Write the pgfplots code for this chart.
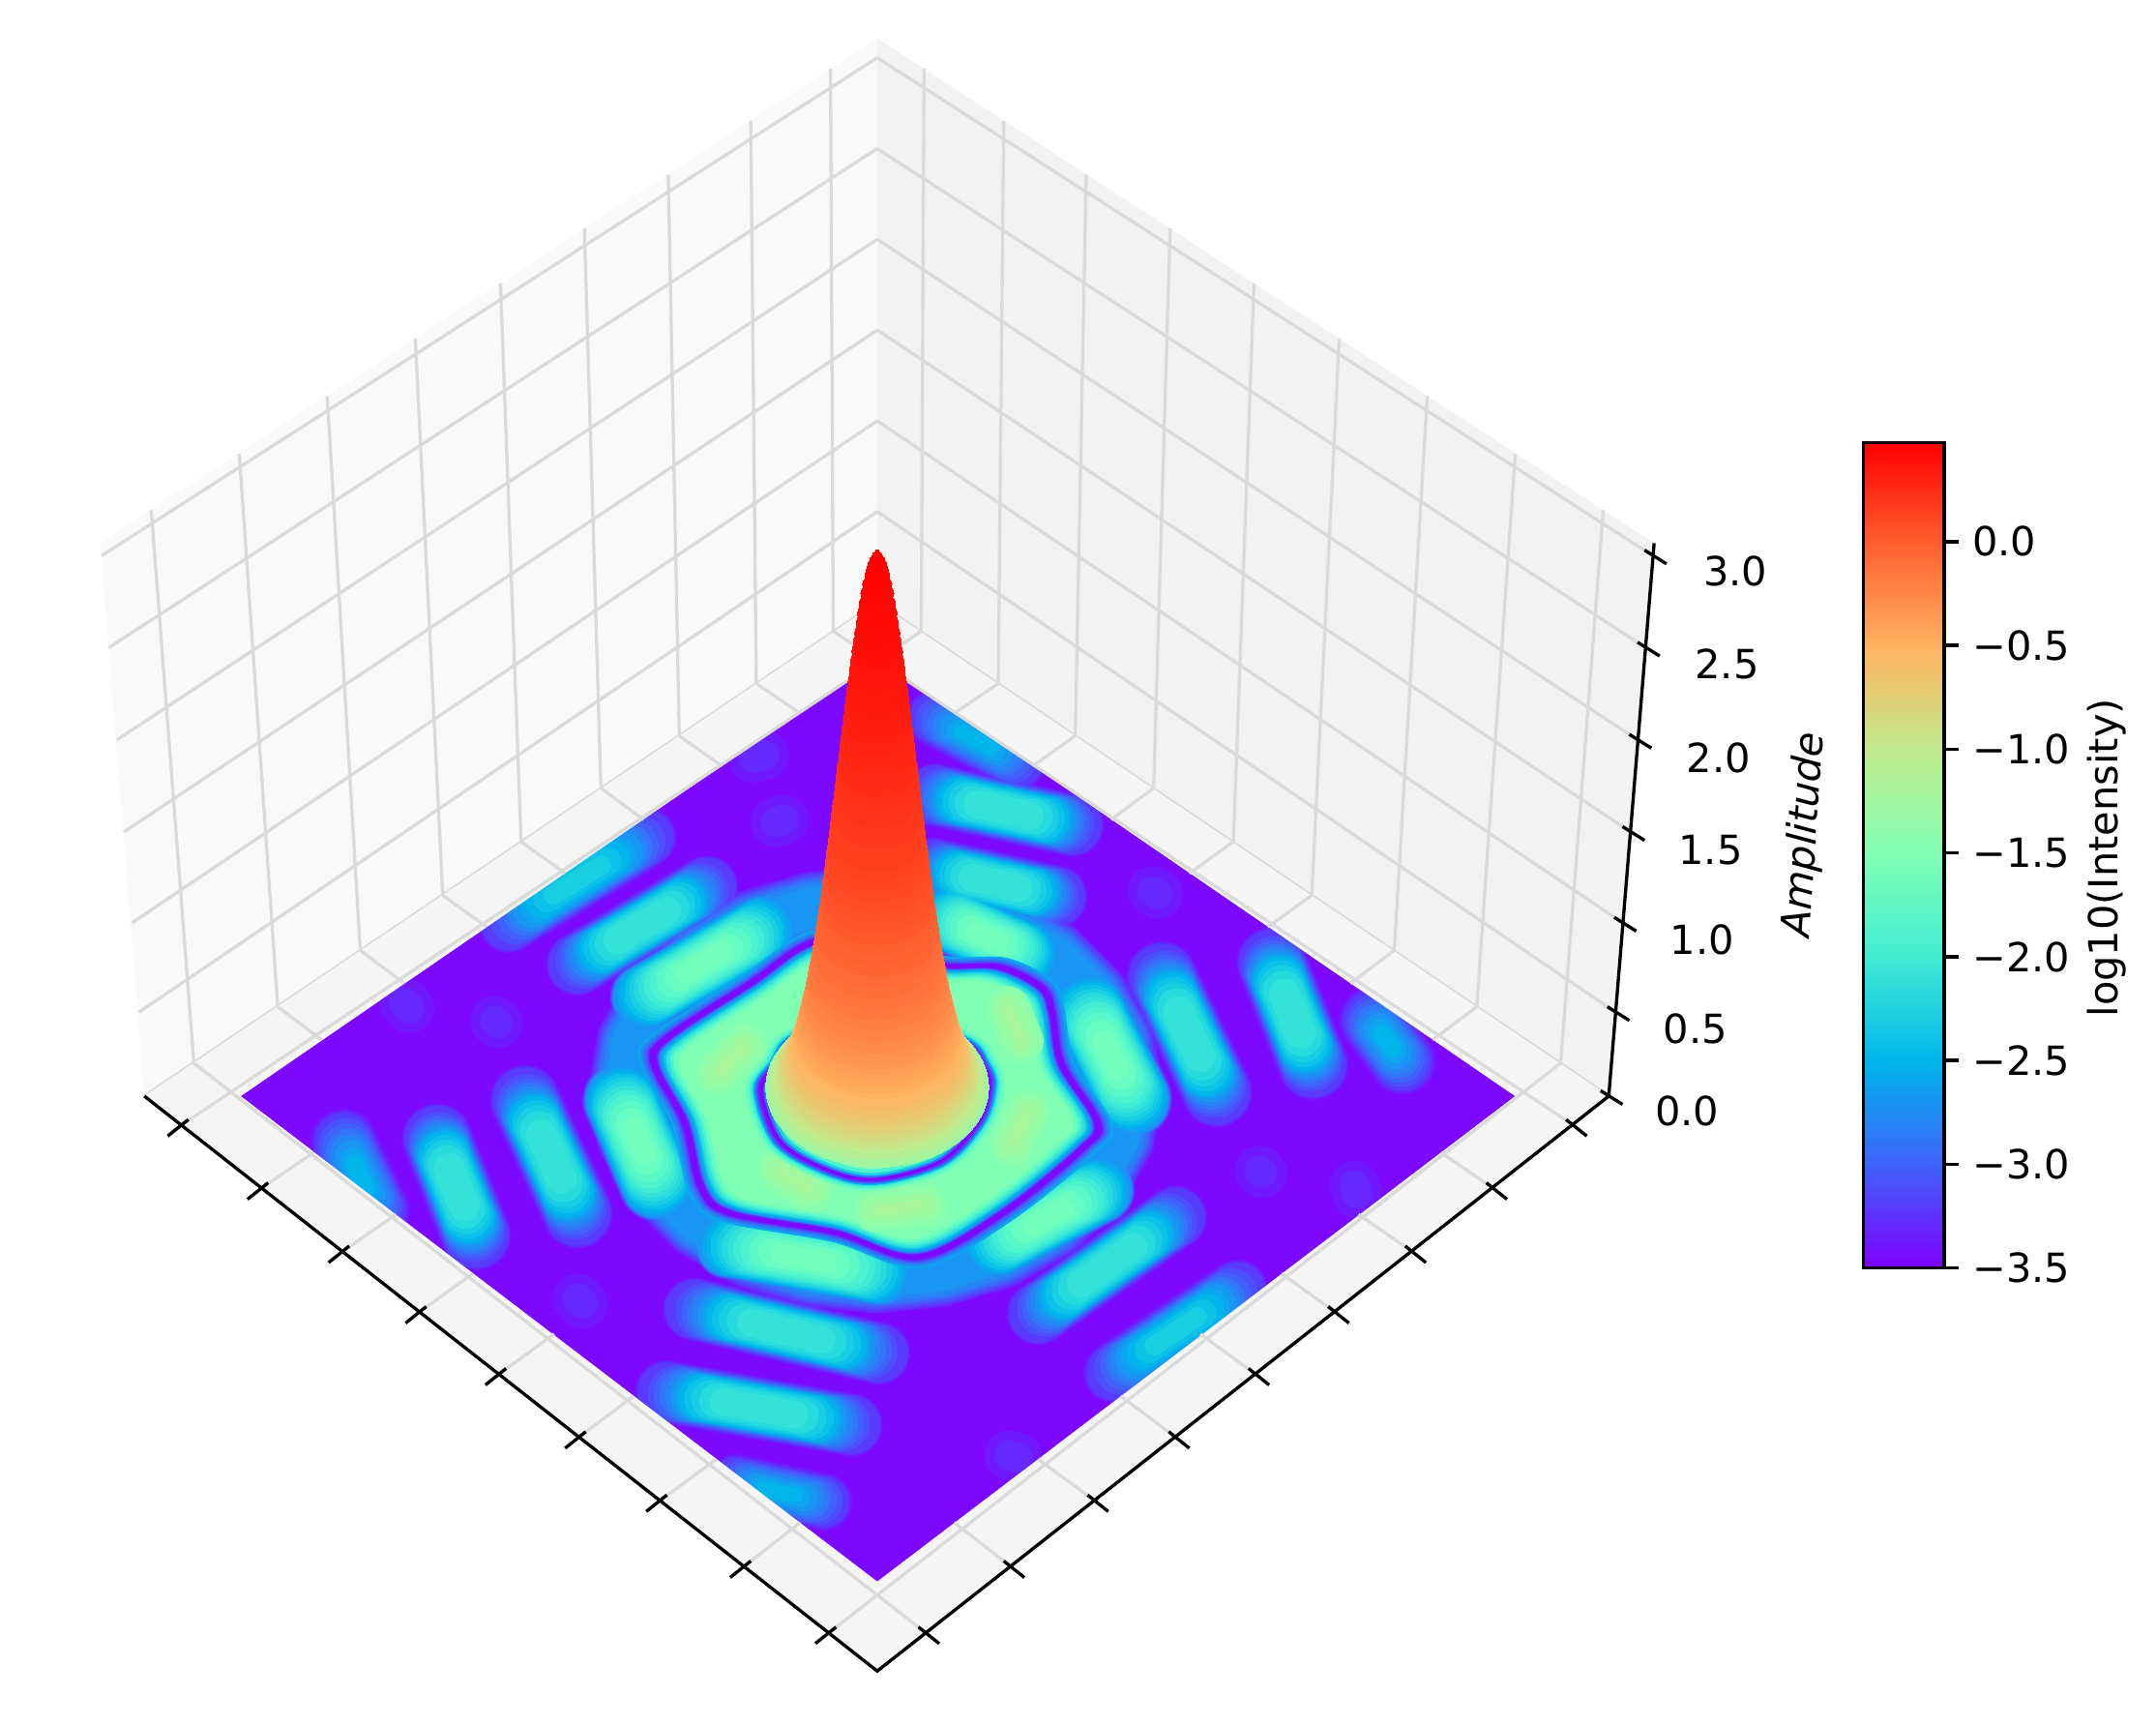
\documentclass[border=0pt]{standalone}
\usepackage{pgfplots}
\usepackage{pgfplotstable}
\usepackage{fontspec}
\setmainfont{DejaVu Sans}
\pgfplotsset{compat=1.18}
% matplotlib rainbow, scale runs -3.5 .. 0.476
\pgfplotsset{colormap={mplrainbow}{rgb=(.5,0,1) rgb=(.25,.383,.98) rgb=(0,.707,.924) rgb=(.25,.924,.831)
  rgb=(.5,1,.707) rgb=(.75,.924,.556) rgb=(1,.707,.383) rgb=(1,.383,.195) rgb=(1,0,0)}}
\def\upx{0.3425pt}
\definecolor{t00}{rgb}{.49,.03,1}
\definecolor{t03}{rgb}{.44,.094,.999}
\definecolor{t05}{rgb}{.40,.156,.997}
\definecolor{t07}{rgb}{.35,.233,.993}
\definecolor{t10}{rgb}{.30,.309,.988}
\definecolor{t12}{rgb}{.25,.383,.981}
\definecolor{t15}{rgb}{.20,.454,.972}
\definecolor{t17}{rgb}{.15,.522,.962}
\definecolor{t20}{rgb}{.10,.588,.951}
\definecolor{t22}{rgb}{.05,.649,.938}
\definecolor{t25}{rgb}{0,.707,.924}
\definecolor{t27}{rgb}{.05,.760,.908}
\definecolor{t30}{rgb}{.10,.809,.891}
\definecolor{t32}{rgb}{.15,.853,.872}
\definecolor{t35}{rgb}{.20,.891,.853}
\definecolor{t37}{rgb}{.25,.924,.831}
\definecolor{t40}{rgb}{.30,.951,.809}
\definecolor{t42}{rgb}{.35,.972,.785}
\definecolor{t45}{rgb}{.40,.988,.760}
\definecolor{t47}{rgb}{.45,.997,.734}
\definecolor{t50}{rgb}{.50,1,.707}
\definecolor{t52}{rgb}{.54,.998,.68}
\definecolor{t54}{rgb}{.58,.992,.66}
\definecolor{t56}{rgb}{.62,.982,.63}
\definecolor{t58}{rgb}{.66,.968,.61}
\definecolor{wallL}{gray}{.975}
\definecolor{wallR}{gray}{.95}
\definecolor{floorc}{gray}{.96}
\definecolor{gridc}{gray}{.855}

% wall grid segments
\pgfplotstableread{
x y a b
141 773 110 371
202 732 174 330
262 691 238 288
322 651 302 246
379 612 364 206
437 573 425 166
494 535 486 127
550 497 546 88
606 459 604 50
1135 773 1166 371
1074 732 1102 330
1014 691 1038 288
954 651 974 246
897 612 912 206
839 573 851 166
782 535 790 127
726 497 730 88
670 459 672 50
105 797 638 438
101 736 638 372
96 671 638 306
90 605 638 240
85 538 638 174
79 471 638 108
74 404 638 42
1170 797 638 438
1175 736 638 372
1180 671 638 306
1186 605 638 240
1191 538 638 174
1197 471 638 108
1202 404 638 42
}\wallgrid
% floor grid, only the parts outside the surface
\pgfplotstableread{
x y a b
132 818 670 459
190 864 228 838
695 518 726 497
249 910 288 883
751 557 782 535
305 954 344 926
808 596 839 573
363 999 403 970
865 635 897 612
421 1045 461 1015
922 674 954 651
480 1091 521 1061
982 715 1014 691
541 1139 582 1107
1042 756 1074 732
603 1187 1135 773
1144 818 606 459
1086 864 1048 838
581 518 550 497
1027 910 988 883
525 557 494 535
971 954 932 926
468 596 437 573
913 999 873 970
411 635 379 612
855 1045 815 1015
354 674 322 651
796 1091 755 1061
294 715 262 691
735 1139 694 1107
234 756 202 732
673 1187 141 773
}\floorgrid
\pgfplotstableread{
x y
132 818
190 864
249 910
305 954
363 999
421 1045
480 1091
541 1139
603 1187
}\tickleft
\pgfplotstableread{
x y
1144 818
1086 864
1027 910
971 954
913 999
855 1045
796 1091
735 1139
673 1187
}\tickright
\pgfplotstableread{
x y
1170 797
1175 736
1180 671
1186 605
1191 538
1197 471
1202 404
}\tickz
% lobes of the floor pattern: middle x y, half length u v
% steep ones stand across the view, flat ones lie along it and look thinner
\pgfplotstableread{
x y u v
296 731 2 2
361 743 1 1
552 550 4 -1
567 597 3 -1
840 649 2 1
986 865 1 3
917 852 1 1
737 1059 3 1
422 946 2 2
}\lobesD
\pgfplotstableread{
x y u v
262 855 12 25
1009 757 11 15
}\lobesCs
\pgfplotstableread{
x y u v
710 538 30 16
567 1085 32 7
}\lobesCf
\pgfplotstableread{
x y u v
420 640 50 -31
855 968 45 -30
}\lobesE
\pgfplotstableread{
x y u v
332 863 14 35
401 841 19 41
940 737 15 37
865 752 20 42
}\lobesBs
\pgfplotstableread{
x y u v
467 673 47 -28
730 589 50 11
724 642 44 10
805 920 50 -35
572 968 67 16
552 1024 67 12
}\lobesBf
\pgfplotstableread{
x y u v
465 830 13 30
808 767 16 32
}\lobesAs
\pgfplotstableread{
x y u v
512 700 43 -25
585 915 55 10
762 885 38 -20
718 681 28 13
}\lobesAf
\pgfplotstableread{
x y
820 792
814 827
795 860
766 889
728 911
684 924
637 929
590 924
546 911
508 889
479 860
460 827
454 792
460 757
479 724
508 695
546 673
590 660
637 655
684 660
728 673
766 695
795 724
814 757
820 792
}\halo
% dark line round the central band, starts behind the peak
\pgfplotstableread{
x y
640 690
687 702
726 703
757 718
765 736
772 774
798 816
787 835
729 882
668 914
607 896
531 882
510 863
498 816
476 774
485 755
546 715
592 685
640 690
}\darkout
% dark line next to the peak
\pgfplotstableread{
x y
638 735
699 757
714 774
719 790
711 816
684 844
638 857
604 851
568 830
554 793
565 774
580 755
638 735
}\darkin
\pgfplotstableread{
x y u v
532 770 10 -10
738 745 5 12
742 820 -6 12
578 858 12 7
655 878 18 -2
}\patches
% peak: amplitude z, half width r in picture px, log10(intensity) m
\pgfplotstableread{
z r m
.05 81 -1.30
.06 80 -1.2
.08 78 -1.09
.10 75.7 -1.02
.115 74 -.95
.13 72.5 -.89
.15 70.7 -.83
.17 69 -.77
.19 67.6 -.72
.21 66.4 -.67
.24 65 -.62
.27 63.5 -.57
.295 62.2 -.53
.32 61 -.5
.345 60 -.46
.37 59 -.43
.40 58 -.4
.43 57 -.37
.455 56.1 -.34
.48 55.3 -.32
.505 54.5 -.3
.53 53.7 -.27
.585 52.2 -.23
.64 50.8 -.19
.69 49.5 -.16
.74 48.2 -.13
.795 47 -.1
.85 45.8 -.07
.905 44.7 -.04
.96 43.6 -.02
1.01 42.5 0
1.06 41.5 .03
1.115 40.5 .05
1.17 39.6 .07
1.225 38.6 .09
1.28 37.7 .11
1.33 36.8 .12
1.38 35.9 .14
1.435 35 .16
1.49 34.1 .17
1.545 33.2 .19
1.6 32.4 .2
1.65 31.5 .22
1.7 30.7 .23
1.755 29.8 .24
1.81 29 .26
1.865 28.1 .27
1.92 27.3 .28
1.97 26.4 .29
2.02 25.6 .31
2.075 24.7 .32
2.13 23.9 .33
2.18 23 .34
2.23 22.2 .35
2.285 21.2 .36
2.34 20.3 .37
2.395 19.3 .38
2.45 18.4 .39
2.5 17.4 .4
2.55 16.4 .41
2.6 15.4 .415
2.66 14.3 .425
2.71 13.1 .433
2.77 12 .442
2.82 10.6 .45
2.87 9 .458
2.90 8 .462
2.93 6.8 .467
2.955 5.4 .47
2.975 4 .473
2.99 2.6 .475
3.0 1.5 .476
}\peak

\newcommand{\stroke}[3]{\addplot[line width=#2*\upx,color=#3,line cap=round,line join=round,forget plot] table {#1};}
% one layer of a set of lobes: table, width, length factor, colour
\newcommand{\lobe}[4]{\addplot[line width=#2*\upx,color=#4,line cap=round,forget plot,
  quiver={u=2*#3*\thisrow{u},v=2*#3*\thisrow{v}}]
  table[x expr=\thisrow{x}-#3*\thisrow{u},y expr=\thisrow{y}-#3*\thisrow{v}] {#1};}
% same layer for the steep and the flat lobes of a class
\newcommand{\lobeC}[3]{\lobe{\lobesCs}{.92*#1}{#2}{#3}\lobe{\lobesCf}{.8*#1}{#2}{#3}}
\newcommand{\lobeB}[3]{\lobe{\lobesBs}{.92*#1}{#2}{#3}\lobe{\lobesBf}{.82*#1}{#2}{#3}}
\newcommand{\lobeA}[3]{\lobe{\lobesAs}{.92*#1}{#2}{#3}\lobe{\lobesAf}{.82*#1}{#2}{#3}}
\newcommand{\scaled}[3]{\addplot[smooth,tension=.55,fill=#3,draw=none,forget plot] table[x expr=638+(\thisrow{x}-638)*#2,y expr=797+(\thisrow{y}-797)*#2] {#1};}
\begin{document}
\begin{tikzpicture}
\begin{axis}[
  name=main,
  at={(0,0)},anchor=south west,
  scale only axis,
  width=1568*\upx,height=1254*\upx,
  xmin=0,xmax=1568,ymin=0,ymax=1254,
  y dir=reverse,
  hide axis,
  clip=false,
  point meta min=-3.5,point meta max=0.476,
]
\addplot[fill=white,draw=none] coordinates {(0,0)(1568,0)(1568,1254)(0,1254)};
\addplot[fill=wallL,draw=none] coordinates {(73,395)(638,28)(638,438)(105,797)};
\addplot[fill=wallR,draw=none] coordinates {(638,28)(1203,395)(1170,797)(638,438)};
\addplot[gridc,line width=.8pt,quiver={u=\thisrow{a}-\thisrow{x},v=\thisrow{b}-\thisrow{y}}] table {\wallgrid};
% surface floor, drawn level by level from low to high
\addplot[fill=t00,draw=none] coordinates {(638,479)(175,797)(638,1150)(1102,797)};
\lobe{\lobesD}{36}{1}{t03} \lobeC{52}{1}{t03} \lobe{\lobesE}{44}{1}{t03} \lobeB{56}{1}{t03}
\lobe{\lobesD}{22}{1}{t05} \lobeC{49}{1}{t05} \lobe{\lobesE}{42}{1}{t05} \lobeB{54}{1}{t05} \stroke{\halo}{52}{t05} \lobeA{62}{1}{t05}
\lobeC{46}{1}{t07} \lobe{\lobesE}{40}{1}{t07} \lobeB{52}{1}{t07} \stroke{\halo}{49}{t07} \lobeA{61}{1}{t07}
\lobeC{43}{.9}{t10} \lobe{\lobesE}{38}{.9}{t10} \lobeB{50}{.9}{t10} \stroke{\halo}{46}{t10} \lobeA{60}{1}{t10}
\lobeC{40}{.8}{t12} \lobe{\lobesE}{36}{.82}{t12} \lobeB{48}{.85}{t12} \stroke{\halo}{43}{t12} \lobeA{59}{1}{t12}
\lobeC{36}{.7}{t15} \lobe{\lobesE}{34}{.75}{t15} \lobeB{46}{.8}{t15} \stroke{\halo}{40}{t15} \lobeA{58}{1}{t15}
\lobeC{32}{.62}{t17} \lobe{\lobesE}{32}{.7}{t17} \lobeB{45}{.75}{t17} \stroke{\halo}{36}{t17} \lobeA{57}{1}{t17}
\lobeC{26}{.55}{t20} \lobe{\lobesE}{30}{.65}{t20} \lobeB{43}{.7}{t20} \stroke{\halo}{30}{t20} \lobeA{56}{1}{t20}
\lobeC{20}{.45}{t22} \lobe{\lobesE}{27}{.58}{t22} \lobeB{42}{.65}{t22} \lobeA{55}{.95}{t22}
\lobeC{14}{.35}{t25} \lobe{\lobesE}{24}{.52}{t25} \lobeB{41}{.62}{t25} \lobeA{53}{.9}{t25}
\lobe{\lobesE}{20}{.44}{t27} \lobeB{38}{.58}{t27} \lobeA{51}{.86}{t27}
\lobe{\lobesE}{14}{.35}{t30} \lobeB{35}{.52}{t30} \lobeA{49}{.8}{t30}
\lobeB{31}{.46}{t32} \lobeA{46}{.75}{t32}
\lobeB{25}{.38}{t35} \lobeA{43}{.7}{t35}
\lobeA{40}{.64}{t37}
\lobeA{36}{.58}{t40}
\lobeA{32}{.5}{t42}
\lobeA{26}{.42}{t45}
\lobeA{18}{.3}{t47}
% central band, nested outlines on both sides of the dark line
\scaled{\darkout}{1.07}{t22}
\scaled{\darkout}{1.055}{t17}
\scaled{\darkout}{1.04}{t12}
\scaled{\darkout}{1.028}{t07}
\scaled{\darkout}{1.018}{t00}
\scaled{\darkout}{0.985}{t05}
\scaled{\darkout}{0.98}{t10}
\scaled{\darkout}{0.975}{t15}
\scaled{\darkout}{0.97}{t20}
\scaled{\darkout}{0.96}{t25}
\scaled{\darkout}{0.95}{t30}
\scaled{\darkout}{0.94}{t35}
\scaled{\darkout}{0.925}{t40}
\scaled{\darkout}{0.91}{t45}
\scaled{\darkout}{0.89}{t50}
\lobe{\patches}{32}{1}{t52}
\lobe{\patches}{24}{1}{t54}
\lobe{\patches}{16}{1}{t56}
\lobe{\patches}{8}{.8}{t58}
\scaled{\darkin}{1.14}{t45}
\scaled{\darkin}{1.11}{t40}
\scaled{\darkin}{1.09}{t35}
\scaled{\darkin}{1.075}{t25}
\scaled{\darkin}{1.06}{t15}
\scaled{\darkin}{1.045}{t07}
\scaled{\darkin}{1.025}{t00}
\scaled{\darkin}{0.985}{t15}
\scaled{\darkin}{0.96}{t30}
\scaled{\darkin}{0.93}{t40}
\scaled{\darkin}{0.88}{t50}
% floor pane round the surface
\addplot[fill=floorc,draw=none] coordinates {(638,438)(105,797)(175,797)(638,479)};
\addplot[fill=floorc,draw=none] coordinates {(638,438)(1170,797)(1102,797)(638,479)};
\addplot[fill=floorc,draw=none] coordinates {(105,797)(638,1215)(638,1150)(175,797)};
\addplot[fill=floorc,draw=none] coordinates {(1170,797)(638,1215)(638,1150)(1102,797)};
\addplot[gridc,line width=.8pt,quiver={u=\thisrow{a}-\thisrow{x},v=\thisrow{b}-\thisrow{y}}] table {\floorgrid};
% axis lines and ticks
\addplot[black,line width=.8pt] coordinates {(105,797)(638,1215)(1170,797)(1203,395)};
\addplot[black,line width=.8pt,quiver={u=15,v=-12}] table[x expr=\thisrow{x}-10,y expr=\thisrow{y}+8] {\tickleft};
\addplot[black,line width=.8pt,quiver={u=-15,v=-12}] table[x expr=\thisrow{x}+10,y expr=\thisrow{y}+8] {\tickright};
\addplot[black,line width=.8pt,quiver={u=-16,v=-10}] table[x expr=\thisrow{x}+10,y expr=\thisrow{y}+6] {\tickz};
% peak, stacked from the floor upwards
\addplot[scatter,only marks,mark=*,
  visualization depends on={0.3425*\thisrow{r} \as \rad},
  scatter/use mapped color={draw=mapped color,fill=mapped color},
  scatter/@pre marker code/.append style={/tikz/mark size=\rad},
  mark options={yscale=.72,line width=0pt},
  point meta=explicit]
  table[x expr=638,y expr=797-132*\thisrow{z},meta=m] {\peak};
\node at (axis cs:1227,808) {0.0};
\node at (axis cs:1233,748) {0.5};
\node at (axis cs:1238,683) {1.0};
\node at (axis cs:1244,618) {1.5};
\node at (axis cs:1250,551) {2.0};
\node at (axis cs:1256,483) {2.5};
\node at (axis cs:1262,415) {3.0};
\node[rotate=86] at (axis cs:1313,607) {\itshape Amplitude};
\end{axis}
\begin{axis}[
  at={(1355*\upx,332*\upx)},anchor=south west,
  scale only axis,
  width=59*\upx,height=600*\upx,
  xmin=0,xmax=1,ymin=-3.5,ymax=0.476,
  xtick=\empty,
  ytick={-3.5,-3,-2.5,-2,-1.5,-1,-0.5,0},
  yticklabels={−3.5,−3.0,−2.5,−2.0,−1.5,−1.0,−0.5,0.0},
  ytick pos=right,yticklabel pos=right,
  tick align=outside,major tick length=3.5pt,
  tick style={black,line width=.8pt},
  axis line style={line width=.8pt},
  ylabel={log10(Intensity)},
  every axis y label/.style={at={(axis description cs:3.0,0.497)},rotate=90,anchor=center},
  point meta min=-3.5,point meta max=0.476,
  axis on top,
]
\addplot[surf,shader=interp,mesh/rows=2,point meta=y] coordinates {(0,-3.5)(0,0.476)(1,-3.5)(1,0.476)};
\end{axis}
\end{tikzpicture}
\end{document}
